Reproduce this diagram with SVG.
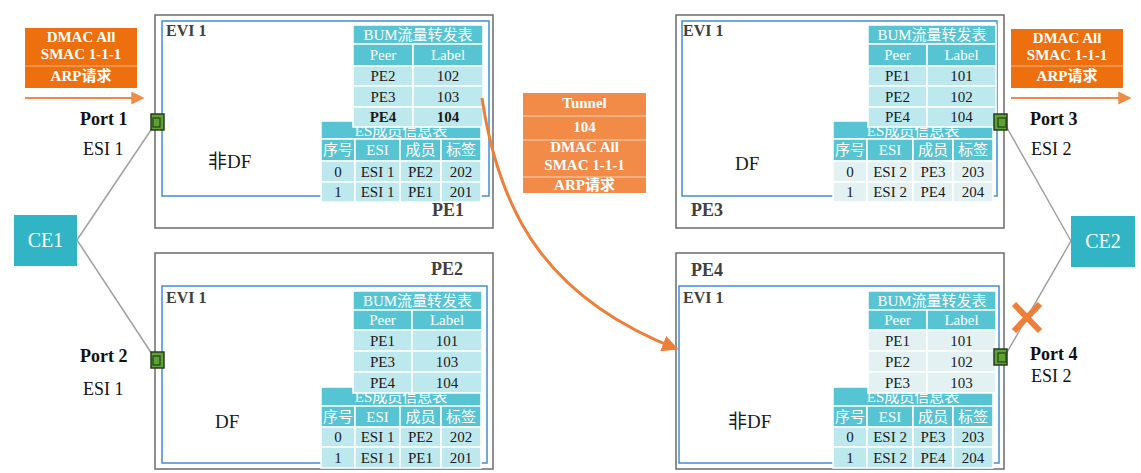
<svg xmlns="http://www.w3.org/2000/svg" width="1141" height="473" viewBox="0 0 1141 473">
<style>
.pe{fill:#fff;stroke:#6b6b6b;stroke-width:1.5}
.evi{fill:none;stroke:#3d8fd6;stroke-width:1.5}
.h{fill:#57c4d3;stroke:#fff;stroke-width:1.5}
.r{fill:#bde8ee;stroke:#fff;stroke-width:1.5}
.g{fill:#e4f1f3;stroke:#fff;stroke-width:1.5}
text{font-family:"Liberation Serif","Noto Sans CJK SC",serif}
.ht{fill:#fff;font-size:15px;text-anchor:middle}
.rt{fill:#1a1a1a;font-size:15px;text-anchor:middle}
.b{font-weight:bold}
.evit{fill:#404040;font-size:16px;font-weight:bold}
.pet{fill:#404040;font-size:18px;font-weight:bold}
.df{fill:#1a1a1a;font-size:19px}
.port{fill:#111;font-size:18px;font-weight:bold}
.esi{fill:#111;font-size:18px}
.ot{fill:#fff;font-size:15px;font-weight:bold;text-anchor:middle}
.ce{fill:#31b5c4}
.cet{fill:#fff;font-size:20px;text-anchor:middle}
.pt{fill:#5aa532;stroke:#2c3a22;stroke-width:1.5}
.pi{fill:none;stroke:#2c3a22;stroke-width:1.2}
.ln{stroke:#a0a0a0;stroke-width:1.5;fill:none}
</style>
<defs>
<marker id="ah" viewBox="0 0 10 10" refX="9" refY="5" markerWidth="5.5" markerHeight="5.5" orient="auto" markerUnits="strokeWidth">
<path d="M0,0 L10,5 L0,10 z" fill="#ee7f3a"/>
</marker>
<marker id="ah2" viewBox="0 0 10 10" refX="9" refY="5" markerWidth="6.5" markerHeight="6.5" orient="auto" markerUnits="strokeWidth">
<path d="M0,0 L10,5 L0,10 z" fill="#f08a45"/>
</marker>
</defs>

<!-- PE1 -->
<g id="pe1">
<rect class="pe" x="155" y="15" width="338" height="213"/>
<rect class="evi" x="162" y="21" width="327" height="175"/>
<text class="evit" x="166" y="36">EVI 1</text>
<text class="df" x="208" y="168">非DF</text>
<text class="pet" x="432" y="216">PE1</text>
<g>
<rect class="h" x="321" y="121" width="160" height="18"/>
<text class="ht" x="401" y="136">ES成员信息表</text>
<rect class="h" x="321" y="139" width="34" height="22"/><rect class="h" x="355" y="139" width="45" height="22"/><rect class="h" x="400" y="139" width="41" height="22"/><rect class="h" x="441" y="139" width="40" height="22"/>
<text class="ht" x="338" y="155">序号</text><text class="ht" x="377.5" y="155">ESI</text><text class="ht" x="420.5" y="155">成员</text><text class="ht" x="461" y="155">标签</text>
<rect class="r" x="321" y="161" width="34" height="21"/><rect class="r" x="355" y="161" width="45" height="21"/><rect class="r" x="400" y="161" width="41" height="21"/><rect class="r" x="441" y="161" width="40" height="21"/>
<text class="rt" x="338" y="177">0</text><text class="rt" x="377.5" y="177">ESI 1</text><text class="rt" x="420.5" y="177">PE2</text><text class="rt" x="461" y="177">202</text>
<rect class="r" x="321" y="182" width="34" height="20"/><rect class="r" x="355" y="182" width="45" height="20"/><rect class="r" x="400" y="182" width="41" height="20"/><rect class="r" x="441" y="182" width="40" height="20"/>
<text class="rt" x="338" y="197">1</text><text class="rt" x="377.5" y="197">ESI 1</text><text class="rt" x="420.5" y="197">PE1</text><text class="rt" x="461" y="197">201</text>
</g>
<g>
<rect class="h" x="353" y="25" width="130" height="19"/>
<text class="ht" x="418" y="40">BUM流量转发表</text>
<rect class="h" x="353" y="44" width="60" height="22"/><rect class="h" x="413" y="44" width="70" height="22"/>
<text class="ht" x="383" y="60">Peer</text><text class="ht" x="448" y="60">Label</text>
<rect class="r" x="353" y="66" width="60" height="20"/><rect class="r" x="413" y="66" width="70" height="20"/>
<text class="rt" x="383" y="81">PE2</text><text class="rt" x="448" y="81">102</text>
<rect class="r" x="353" y="86" width="60" height="21"/><rect class="r" x="413" y="86" width="70" height="21"/>
<text class="rt" x="383" y="102">PE3</text><text class="rt" x="448" y="102">103</text>
<rect class="r" x="353" y="107" width="60" height="20"/><rect class="r" x="413" y="107" width="70" height="20"/>
<text class="rt b" x="383" y="122">PE4</text><text class="rt b" x="448" y="122">104</text>
</g>
</g>

<!-- PE3 -->
<g id="pe3">
<rect class="pe" x="676" y="15" width="328" height="213"/>
<rect class="evi" x="682" y="21" width="315" height="175"/>
<text class="evit" x="683" y="36">EVI 1</text>
<text class="df" x="735" y="170">DF</text>
<text class="pet" x="691" y="216">PE3</text>
<g>
<rect class="h" x="833" y="121" width="160" height="18"/>
<text class="ht" x="913" y="136">ES成员信息表</text>
<rect class="h" x="833" y="139" width="34" height="22"/><rect class="h" x="867" y="139" width="46" height="22"/><rect class="h" x="913" y="139" width="40" height="22"/><rect class="h" x="953" y="139" width="40" height="22"/>
<text class="ht" x="850" y="155">序号</text><text class="ht" x="890" y="155">ESI</text><text class="ht" x="933" y="155">成员</text><text class="ht" x="973" y="155">标签</text>
<rect class="g" x="833" y="161" width="34" height="21"/><rect class="g" x="867" y="161" width="46" height="21"/><rect class="g" x="913" y="161" width="40" height="21"/><rect class="g" x="953" y="161" width="40" height="21"/>
<text class="rt" x="850" y="177">0</text><text class="rt" x="890" y="177">ESI 2</text><text class="rt" x="933" y="177">PE3</text><text class="rt" x="973" y="177">203</text>
<rect class="g" x="833" y="182" width="34" height="20"/><rect class="g" x="867" y="182" width="46" height="20"/><rect class="g" x="913" y="182" width="40" height="20"/><rect class="g" x="953" y="182" width="40" height="20"/>
<text class="rt" x="850" y="197">1</text><text class="rt" x="890" y="197">ESI 2</text><text class="rt" x="933" y="197">PE4</text><text class="rt" x="973" y="197">204</text>
</g>
<g>
<rect class="h" x="868" y="25" width="128" height="19"/>
<text class="ht" x="932" y="40">BUM流量转发表</text>
<rect class="h" x="868" y="44" width="59" height="22"/><rect class="h" x="927" y="44" width="69" height="22"/>
<text class="ht" x="897.5" y="60">Peer</text><text class="ht" x="961.5" y="60">Label</text>
<rect class="r" x="868" y="66" width="59" height="20"/><rect class="r" x="927" y="66" width="69" height="20"/>
<text class="rt" x="897.5" y="81">PE1</text><text class="rt" x="961.5" y="81">101</text>
<rect class="r" x="868" y="86" width="59" height="21"/><rect class="r" x="927" y="86" width="69" height="21"/>
<text class="rt" x="897.5" y="102">PE2</text><text class="rt" x="961.5" y="102">102</text>
<rect class="r" x="868" y="107" width="59" height="20"/><rect class="r" x="927" y="107" width="69" height="20"/>
<text class="rt" x="897.5" y="122">PE4</text><text class="rt" x="961.5" y="122">104</text>
</g>
</g>

<!-- PE2 -->
<g id="pe2">
<rect class="pe" x="155" y="253" width="338" height="216"/>
<rect class="evi" x="162" y="286" width="325" height="177"/>
<text class="evit" x="166" y="303">EVI 1</text>
<text class="df" x="215" y="428">DF</text>
<text class="pet" x="431" y="275">PE2</text>
<g>
<rect class="h" x="321" y="387" width="160" height="19"/>
<text class="ht" x="401" y="402">ES成员信息表</text>
<rect class="h" x="321" y="406" width="34" height="21"/><rect class="h" x="355" y="406" width="45" height="21"/><rect class="h" x="400" y="406" width="41" height="21"/><rect class="h" x="441" y="406" width="40" height="21"/>
<text class="ht" x="338" y="422">序号</text><text class="ht" x="377.5" y="422">ESI</text><text class="ht" x="420.5" y="422">成员</text><text class="ht" x="461" y="422">标签</text>
<rect class="r" x="321" y="427" width="34" height="20"/><rect class="r" x="355" y="427" width="45" height="20"/><rect class="r" x="400" y="427" width="41" height="20"/><rect class="r" x="441" y="427" width="40" height="20"/>
<text class="rt" x="338" y="442">0</text><text class="rt" x="377.5" y="442">ESI 1</text><text class="rt" x="420.5" y="442">PE2</text><text class="rt" x="461" y="442">202</text>
<rect class="r" x="321" y="447" width="34" height="21"/><rect class="r" x="355" y="447" width="45" height="21"/><rect class="r" x="400" y="447" width="41" height="21"/><rect class="r" x="441" y="447" width="40" height="21"/>
<text class="rt" x="338" y="463">1</text><text class="rt" x="377.5" y="463">ESI 1</text><text class="rt" x="420.5" y="463">PE1</text><text class="rt" x="461" y="463">201</text>
</g>
<g>
<rect class="h" x="353" y="291" width="129" height="19"/>
<text class="ht" x="417.5" y="306">BUM流量转发表</text>
<rect class="h" x="353" y="310" width="59" height="20"/><rect class="h" x="412" y="310" width="70" height="20"/>
<text class="ht" x="382.5" y="325">Peer</text><text class="ht" x="447" y="325">Label</text>
<rect class="r" x="353" y="330" width="59" height="21"/><rect class="r" x="412" y="330" width="70" height="21"/>
<text class="rt" x="382.5" y="346">PE1</text><text class="rt" x="447" y="346">101</text>
<rect class="r" x="353" y="351" width="59" height="21"/><rect class="r" x="412" y="351" width="70" height="21"/>
<text class="rt" x="382.5" y="367">PE3</text><text class="rt" x="447" y="367">103</text>
<rect class="r" x="353" y="372" width="59" height="21"/><rect class="r" x="412" y="372" width="70" height="21"/>
<text class="rt" x="382.5" y="388">PE4</text><text class="rt" x="447" y="388">104</text>
</g>
</g>

<!-- PE4 -->
<g id="pe4">
<rect class="pe" x="676" y="253" width="328" height="216"/>
<rect class="evi" x="679" y="286" width="320" height="177"/>
<text class="evit" x="683" y="303">EVI 1</text>
<text class="df" x="728" y="428">非DF</text>
<text class="pet" x="691" y="276">PE4</text>
<g>
<rect class="h" x="833" y="387" width="160" height="19"/>
<text class="ht" x="913" y="402">ES成员信息表</text>
<rect class="h" x="833" y="406" width="34" height="21"/><rect class="h" x="867" y="406" width="46" height="21"/><rect class="h" x="913" y="406" width="40" height="21"/><rect class="h" x="953" y="406" width="40" height="21"/>
<text class="ht" x="850" y="422">序号</text><text class="ht" x="890" y="422">ESI</text><text class="ht" x="933" y="422">成员</text><text class="ht" x="973" y="422">标签</text>
<rect class="r" x="833" y="427" width="34" height="20"/><rect class="r" x="867" y="427" width="46" height="20"/><rect class="r" x="913" y="427" width="40" height="20"/><rect class="r" x="953" y="427" width="40" height="20"/>
<text class="rt" x="850" y="442">0</text><text class="rt" x="890" y="442">ESI 2</text><text class="rt" x="933" y="442">PE3</text><text class="rt" x="973" y="442">203</text>
<rect class="r" x="833" y="447" width="34" height="21"/><rect class="r" x="867" y="447" width="46" height="21"/><rect class="r" x="913" y="447" width="40" height="21"/><rect class="r" x="953" y="447" width="40" height="21"/>
<text class="rt" x="850" y="463">1</text><text class="rt" x="890" y="463">ESI 2</text><text class="rt" x="933" y="463">PE4</text><text class="rt" x="973" y="463">204</text>
</g>
<g>
<rect class="h" x="868" y="291" width="128" height="19"/>
<text class="ht" x="932" y="306">BUM流量转发表</text>
<rect class="h" x="868" y="310" width="59" height="20"/><rect class="h" x="927" y="310" width="69" height="20"/>
<text class="ht" x="897.5" y="325">Peer</text><text class="ht" x="961.5" y="325">Label</text>
<rect class="g" x="868" y="330" width="59" height="21"/><rect class="g" x="927" y="330" width="69" height="21"/>
<text class="rt" x="897.5" y="346">PE1</text><text class="rt" x="961.5" y="346">101</text>
<rect class="g" x="868" y="351" width="59" height="21"/><rect class="g" x="927" y="351" width="69" height="21"/>
<text class="rt" x="897.5" y="367">PE2</text><text class="rt" x="961.5" y="367">102</text>
<rect class="g" x="868" y="372" width="59" height="21"/><rect class="g" x="927" y="372" width="69" height="21"/>
<text class="rt" x="897.5" y="388">PE3</text><text class="rt" x="961.5" y="388">103</text>
</g>
</g>

<!-- connectors -->
<g id="connectors">
<line class="ln" x1="77" y1="240" x2="153" y2="127"/>
<line class="ln" x1="77" y1="240" x2="152" y2="354"/>
<line class="ln" x1="1071" y1="241" x2="1006" y2="126"/>
<line class="ln" x1="1071" y1="241" x2="1006" y2="354"/>
<path d="M482,98 C500,220 552,300 677,349" fill="none" stroke="#ee7f3a" stroke-width="3" marker-end="url(#ah)"/>
<line x1="25" y1="98" x2="143" y2="98" stroke="#f08a45" stroke-width="2" marker-end="url(#ah2)"/>
<line x1="1011" y1="98" x2="1130" y2="98" stroke="#f08a45" stroke-width="2" marker-end="url(#ah2)"/>
<g stroke="#ee7f3a" stroke-width="6">
<line x1="1014" y1="304" x2="1040" y2="331"/>
<line x1="1040" y1="304" x2="1014" y2="331"/>
</g>
</g>

<!-- ports -->
<g id="port1"><rect class="pt" x="151" y="114" width="13" height="16"/><rect class="pi" x="153" y="118" width="7" height="9"/></g>
<g id="port2"><rect class="pt" x="151" y="352" width="13" height="16"/><rect class="pi" x="153" y="356" width="7" height="9"/></g>
<g id="port3"><rect class="pt" x="994" y="114" width="13" height="16"/><rect class="pi" x="998" y="118" width="8" height="9"/></g>
<g id="port4"><rect class="pt" x="994" y="349" width="13" height="16"/><rect class="pi" x="998" y="353" width="8" height="9"/></g>

<!-- CE -->
<g id="ce1"><rect class="ce" x="14" y="215" width="63" height="51"/><text class="cet" x="45.5" y="247">CE1</text></g>
<g id="ce2"><rect class="ce" x="1071" y="216" width="64" height="51"/><text class="cet" x="1103" y="248">CE2</text></g>

<!-- port labels -->
<g id="labels">
<text class="port" x="80" y="125">Port 1</text>
<text class="esi" x="83" y="155">ESI 1</text>
<text class="port" x="80" y="362">Port 2</text>
<text class="esi" x="83" y="395">ESI 1</text>
<text class="port" x="1030" y="125">Port 3</text>
<text class="esi" x="1031" y="155">ESI 2</text>
<text class="port" x="1030" y="360">Port 4</text>
<text class="esi" x="1031" y="382">ESI 2</text>
</g>

<!-- packet boxes -->
<g id="pkt-left">
<rect x="25" y="28" width="112" height="60" fill="#ee6f0d"/>
<line x1="25" y1="66" x2="137" y2="66" stroke="#f6b58a" stroke-width="1"/>
<text class="ot" x="81" y="42">DMAC All</text>
<text class="ot" x="81" y="59">SMAC 1-1-1</text>
<text class="ot" x="81" y="81">ARP请求</text>
</g>
<g id="pkt-right">
<rect x="1011" y="29" width="112" height="59" fill="#ee6f0d"/>
<line x1="1011" y1="66" x2="1123" y2="66" stroke="#f6b58a" stroke-width="1"/>
<text class="ot" x="1067" y="43">DMAC All</text>
<text class="ot" x="1067" y="60">SMAC 1-1-1</text>
<text class="ot" x="1067" y="81">ARP请求</text>
</g>
<g id="pkt-tunnel">
<rect x="523" y="93" width="123" height="100" fill="#f28a48"/>
<g stroke="#fbd3b8" stroke-width="1.2">
<line x1="523" y1="116" x2="646" y2="116"/>
<line x1="523" y1="140" x2="646" y2="140"/>
<line x1="523" y1="177" x2="646" y2="177"/>
</g>
<text class="ot" x="584.5" y="108">Tunnel</text>
<text class="ot" x="584.5" y="132">104</text>
<text class="ot" x="584.5" y="152">DMAC All</text>
<text class="ot" x="584.5" y="170">SMAC 1-1-1</text>
<text class="ot" x="584.5" y="190">ARP请求</text>
</g>
</svg>
